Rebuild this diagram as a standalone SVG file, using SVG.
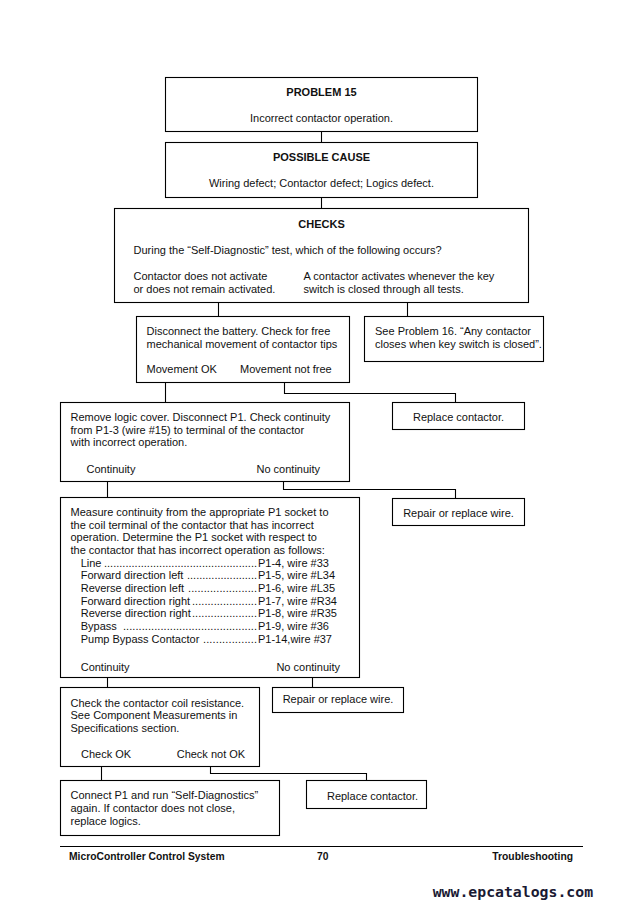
<svg xmlns="http://www.w3.org/2000/svg" width="644" height="909" viewBox="0 0 644 909">
<style>
rect.box{fill:#fff;stroke:#000;stroke-width:1.1}
.c{fill:none;stroke:#000;stroke-width:1.1}
text{font-family:"Liberation Sans",Arial,sans-serif;font-size:11px;fill:#111}
.b{font-weight:bold}
.m{text-anchor:middle}
.e{text-anchor:end}
.f{font-size:10.3px;font-weight:bold}
.w{font-family:"DejaVu Sans Mono","Liberation Mono",monospace;font-size:14.8px;font-weight:bold;fill:#1a1a33}
</style>
<rect width="644" height="909" fill="#fff"/>
<g id="connectors">
<path class="c" d="M321.5 131.5V142.5"/>
<path class="c" d="M321.5 197.5V208.5"/>
<path class="c" d="M218.5 302.5V316.5"/>
<path class="c" d="M407.5 302.5V316.5"/>
<path class="c" d="M165.5 382.5V402.5"/>
<path class="c" d="M284.5 382.5V393.5H455.5V402.5"/>
<path class="c" d="M107.5 481.5V497.5"/>
<path class="c" d="M283.5 481.5V489.5H455.5V498.5"/>
<path class="c" d="M107.5 677.5V687.5"/>
<path class="c" d="M312.5 677.5V687.5"/>
<path class="c" d="M101.5 766.5V780.5"/>
<path class="c" d="M210.5 766.5V773.5H366.5V780.5"/>
</g>
<g id="problem">
<rect class="box" x="165.5" y="77.5" width="312" height="54"/>
<text class="b m" x="321.5" y="96">PROBLEM 15</text>
<text class="m" x="321.5" y="121.5">Incorrect contactor operation.</text>
</g>
<g id="cause">
<rect class="box" x="165.5" y="142.5" width="312" height="55"/>
<text class="b m" x="321.5" y="160.5">POSSIBLE CAUSE</text>
<text class="m" x="321.5" y="186.5">Wiring defect; Contactor defect; Logics defect.</text>
</g>
<g id="checks">
<rect class="box" x="114.5" y="208.5" width="414" height="94"/>
<text class="b m" x="321.5" y="227.5">CHECKS</text>
<text x="133.5" y="254">During the “Self-Diagnostic” test, which of the following occurs?</text>
<text x="133.5" y="279.5">Contactor does not activate</text>
<text x="133.5" y="292.5">or does not remain activated.</text>
<text x="303.5" y="279.5">A contactor activates whenever the key</text>
<text x="303.5" y="292.5">switch is closed through all tests.</text>
</g>
<g id="battery">
<rect class="box" x="136.5" y="316.5" width="213" height="66"/>
<text x="146.5" y="335">Disconnect the battery. Check for free</text>
<text x="146.5" y="347.7">mechanical movement of contactor tips</text>
<text x="146.5" y="373.3">Movement OK</text>
<text x="240" y="373.3">Movement not free</text>
</g>
<g id="problem16">
<rect class="box" x="364.5" y="316.5" width="179" height="45"/>
<text x="375" y="335">See Problem 16. “Any contactor</text>
<text x="375" y="347.7">closes when key switch is closed”.</text>
</g>
<g id="replace1">
<rect class="box" x="392.5" y="402.5" width="132" height="27"/>
<text class="m" x="458.5" y="420.5">Replace contactor.</text>
</g>
<g id="logiccover">
<rect class="box" x="60.5" y="402.5" width="289" height="79"/>
<text x="70.5" y="421">Remove logic cover. Disconnect P1. Check continuity</text>
<text x="70.5" y="433.5">from P1-3 (wire #15) to terminal of the contactor</text>
<text x="70.5" y="446">with incorrect operation.</text>
<text x="86.5" y="472.5">Continuity</text>
<text x="256.5" y="472.5">No continuity</text>
</g>
<g id="repair1">
<rect class="box" x="392.5" y="498.5" width="132" height="27"/>
<text class="m" x="458.5" y="516.5">Repair or replace wire.</text>
</g>
<g id="measure">
<rect class="box" x="60.5" y="497.5" width="299" height="180"/>
<text x="70.5" y="516">Measure continuity from the appropriate P1 socket to</text>
<text x="70.5" y="528.7">the coil terminal of the contactor that has incorrect</text>
<text x="70.5" y="541.3">operation. Determine the P1 socket with respect to</text>
<text x="70.5" y="554">the contactor that has incorrect operation as follows:</text>
<text x="80.7" y="566.7">Line</text>
<text x="104" y="566.7" textLength="153" lengthAdjust="spacing">..................................................</text>
<text x="258" y="566.7">P1-4, wire #33</text>
<text x="80.7" y="579.3">Forward direction left</text>
<text x="187" y="579.3" textLength="70" lengthAdjust="spacing">.......................</text>
<text x="258" y="579.3">P1-5, wire #L34</text>
<text x="80.7" y="592">Reverse direction left</text>
<text x="188" y="592" textLength="69" lengthAdjust="spacing">......................</text>
<text x="258" y="592">P1-6, wire #L35</text>
<text x="80.7" y="604.7">Forward direction right</text>
<text x="192" y="604.7" textLength="65" lengthAdjust="spacing">.....................</text>
<text x="258" y="604.7">P1-7, wire #R34</text>
<text x="80.7" y="617.3">Reverse direction right</text>
<text x="192" y="617.3" textLength="65" lengthAdjust="spacing">.....................</text>
<text x="258" y="617.3">P1-8, wire #R35</text>
<text x="80.7" y="630">Bypass</text>
<text x="123" y="630" textLength="134" lengthAdjust="spacing">...........................................</text>
<text x="258" y="630">P1-9, wire #36</text>
<text x="80.7" y="642.7">Pump Bypass Contactor</text>
<text x="203" y="642.7" textLength="54" lengthAdjust="spacing">.................</text>
<text x="258" y="642.7">P1-14,wire #37</text>
<text x="80.7" y="670.7">Continuity</text>
<text class="e" x="340" y="670.7">No continuity</text>
</g>
<g id="coil">
<rect class="box" x="60.5" y="687.5" width="199" height="79"/>
<text x="70.5" y="706.7">Check the contactor coil resistance.</text>
<text x="70.5" y="719.3">See Component Measurements in</text>
<text x="70.5" y="732">Specifications section.</text>
<text x="81" y="758.3">Check OK</text>
<text x="176.7" y="758.3">Check not OK</text>
</g>
<g id="repair2">
<rect class="box" x="272.5" y="687.5" width="131" height="25"/>
<text class="m" x="338" y="702.5">Repair or replace wire.</text>
</g>
<g id="connect">
<rect class="box" x="60.5" y="780.5" width="219" height="55"/>
<text x="70.5" y="799.3">Connect P1 and run “Self-Diagnostics”</text>
<text x="70.5" y="812">again. If contactor does not close,</text>
<text x="70.5" y="824.7">replace logics.</text>
</g>
<g id="replace2">
<rect class="box" x="306.5" y="780.5" width="120" height="28"/>
<text class="m" x="372.5" y="799.5">Replace contactor.</text>
</g>
<line x1="60" y1="846.5" x2="583" y2="846.5" stroke="#000" stroke-width="1.2"/>
<text class="f" x="69" y="859.5">MicroController Control System</text>
<text class="f" x="317" y="859.5">70</text>
<text class="f e" x="573" y="859.5">Troubleshooting</text>
<text class="w" x="432.7" y="896.5">www.epcatalogs.com</text>
</svg>
